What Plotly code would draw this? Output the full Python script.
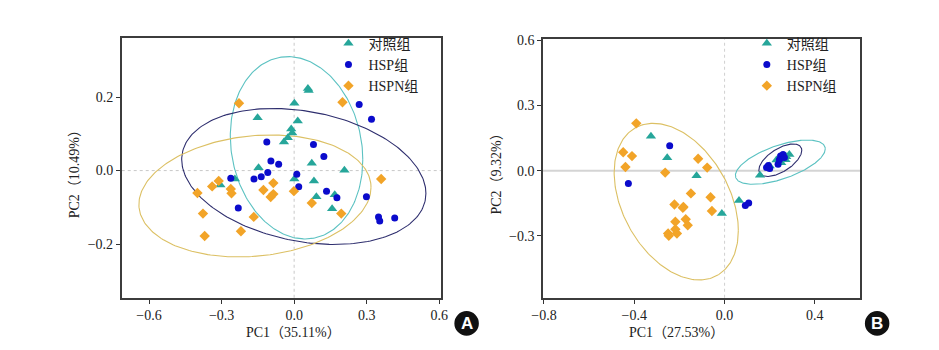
import numpy as np
import plotly.graph_objects as go

W, H = 939, 350
groups = ["对照组", "HSP组", "HSPN组"]

# ---------------- Panel A data ----------------
a_ctrl_x = [-0.151, -0.042, 0.057, 0.060, 0.001, 0.015, -0.012, -0.008, -0.026, -0.147,
            -0.245, -0.305, 0.073, 0.208, 0.001, 0.082, 0.092, 0.168, 0.157]
a_ctrl_y = [0.144, 0.078, 0.223, 0.218, 0.183, 0.135, 0.113, 0.102, 0.089, 0.008,
            -0.023, -0.039, 0.020, 0.001, -0.023, -0.028, -0.071, -0.066, -0.104]
a_hsp_x = [-0.113, 0.269, 0.320, 0.080, 0.123, -0.096, -0.064, -0.109, -0.136, -0.166,
           -0.262, -0.231, 0.011, 0.019, 0.134, 0.177, 0.299, 0.349, 0.354, 0.416]
a_hsp_y = [0.078, 0.180, 0.140, 0.071, 0.038, 0.026, 0.017, -0.005, -0.017, -0.023,
           -0.021, -0.102, -0.010, -0.044, -0.056, -0.074, -0.071, -0.126, -0.137, -0.129]
a_hspn_x = [-0.228, 0.200, -0.312, -0.339, -0.262, -0.259, -0.400, -0.086, -0.127, -0.086,
            -0.097, -0.377, -0.167, -0.220, -0.370, -0.001, 0.360, 0.073, 0.195]
a_hspn_y = [0.183, 0.186, -0.028, -0.043, -0.050, -0.062, -0.061, -0.034, -0.053, -0.064,
            -0.072, -0.117, -0.126, -0.165, -0.178, -0.056, -0.023, -0.088, -0.117]

# ellipse parameters (centre, x half-extent, y half-extent, tilt cosine)
a_ell_cx = [0.010, 0.040, -0.162]
a_ell_cy = [0.062, -0.016, -0.069]
a_ell_rx = [0.274, 0.505, 0.480]
a_ell_ry = [0.248, 0.185, 0.166]
a_ell_c = [-0.13, -0.25, 0.14]

# ---------------- Panel B data ----------------
b_ctrl_x = [-0.326, -0.254, -0.124, 0.064, -0.012, 0.157, 0.200, 0.230, 0.251, 0.273, 0.287, 0.270]
b_ctrl_y = [0.158, 0.059, -0.024, -0.138, -0.198, -0.021, 0.021, 0.049, 0.036, 0.064, 0.074, 0.050]
b_hsp_x = [-0.243, -0.426, 0.092, 0.107, 0.186, 0.194, 0.200, 0.237, 0.248, 0.259, 0.243, 0.265]
b_hsp_y = [0.115, -0.059, -0.161, -0.149, 0.014, 0.024, 0.010, 0.029, 0.067, 0.074, 0.050, 0.060]
b_hspn_x = [-0.391, -0.449, -0.410, -0.439, -0.263, -0.222, -0.185, -0.218, -0.218, -0.250,
            -0.211, -0.247, -0.117, -0.077, -0.149, -0.062, -0.182, -0.056, -0.172, -0.163]
b_hspn_y = [0.218, 0.085, 0.067, 0.017, -0.009, -0.156, -0.171, -0.236, -0.270, -0.290,
            -0.290, -0.300, 0.055, 0.014, -0.105, -0.123, -0.168, -0.186, -0.224, -0.252]

b_ell_cx = [0.247, 0.247, -0.214]
b_ell_cy = [0.039, 0.048, -0.143]
b_ell_rx = [0.199, 0.095, 0.275]
b_ell_ry = [0.102, 0.075, 0.361]
b_ell_c = [0.60, 0.60, -0.37]

a_xticks = [-0.6, -0.3, 0.0, 0.3, 0.6]
a_yticks = [-0.2, 0.0, 0.2]
b_xticks = [-0.8, -0.4, 0.0, 0.4]
b_yticks = [-0.3, 0.0, 0.3, 0.6]

# ---------------- styles ----------------
pt_colors = ["#26a69a", "#0b0bcc", "#f2a428"]
ell_colors = ["#5cc2c2", "#2e2e6e", "#dcc064"]
symbols = ["triangle-up", "circle", "diamond"]
sizes = [9, 7, 8]
SERIF = "Liberation Serif, Times New Roman, Noto Sans CJK SC, serif"

fig = go.Figure()


def ellipse(cx, cy, rx, ry, c):
    t = np.linspace(0, 2 * np.pi, 241)
    phi = np.arccos(c)
    return cx + rx * np.cos(t), cy + ry * np.cos(t + phi)


def add_panel(xa, ya, legend, pts, ell):
    for i in range(3):
        ex, ey = ellipse(ell[0][i], ell[1][i], ell[2][i], ell[3][i], ell[4][i])
        fig.add_trace(go.Scatter(x=ex, y=ey, mode="lines", xaxis=xa, yaxis=ya,
                                 line=dict(color=ell_colors[i], width=1.1),
                                 showlegend=False, hoverinfo="skip"))
    for i in range(3):
        fig.add_trace(go.Scatter(x=pts[i][0], y=pts[i][1], mode="markers", name=groups[i],
                                 xaxis=xa, yaxis=ya, legend=legend,
                                 marker=dict(symbol=symbols[i], size=sizes[i], color=pt_colors[i],
                                             line=dict(width=0))))


add_panel("x", "y", "legend",
          [(a_ctrl_x, a_ctrl_y), (a_hsp_x, a_hsp_y), (a_hspn_x, a_hspn_y)],
          (a_ell_cx, a_ell_cy, a_ell_rx, a_ell_ry, a_ell_c))
add_panel("x2", "y2", "legend2",
          [(b_ctrl_x, b_ctrl_y), (b_hsp_x, b_hsp_y), (b_hspn_x, b_hspn_y)],
          (b_ell_cx, b_ell_cy, b_ell_rx, b_ell_ry, b_ell_c))


def px_x(p):
    return p / W


def px_y(p):
    return 1 - p / H


axis_common = dict(showgrid=False, zeroline=False, showline=True, mirror=True,
                   linecolor="#3c3c3c", linewidth=1.6, ticks="outside", ticklen=4,
                   tickcolor="#333", tickwidth=1.2,
                   tickfont=dict(family=SERIF, size=14, color="#222"))

leg_common = dict(xanchor="left", yanchor="top", bgcolor="rgba(0,0,0,0)",
                  font=dict(family=SERIF, size=14, color="#222"),
                  tracegroupgap=0, itemsizing="trace")

fig.update_layout(
    width=W, height=H, margin=dict(l=0, r=0, t=0, b=0),
    paper_bgcolor="white", plot_bgcolor="white",
    xaxis=dict(domain=[px_x(112), px_x(438)], range=[-0.713, 0.608], anchor="y",
               tickvals=a_xticks, tickformat=".1f", **axis_common),
    yaxis=dict(domain=[px_y(297), px_y(33)], range=[-0.346, 0.362], anchor="x",
               tickvals=a_yticks, tickformat=".1f", **axis_common),
    xaxis2=dict(domain=[px_x(542), px_x(866)], range=[-0.804, 0.602], anchor="y2",
                tickvals=b_xticks, tickformat=".1f", **axis_common),
    yaxis2=dict(domain=[px_y(297), px_y(34)], range=[-0.586, 0.609], anchor="x2",
                tickvals=b_yticks, tickformat=".1f", **axis_common),
    legend=dict(x=px_x(323), y=px_y(23), **leg_common),
    legend2=dict(x=px_x(750), y=px_y(23), **leg_common),
    showlegend=True,
)

# zero reference lines
shapes = [
    dict(type="line", xref="x", yref="y domain", x0=0, x1=0, y0=0, y1=1,
         line=dict(color="#c8c8c8", width=1, dash="dot"), layer="below"),
    dict(type="line", xref="x domain", yref="y", x0=0, x1=1, y0=0, y1=0,
         line=dict(color="#c8c8c8", width=1, dash="dot"), layer="below"),
    dict(type="line", xref="x2", yref="y2 domain", x0=0, x1=0, y0=0, y1=1,
         line=dict(color="#d0d0d0", width=1, dash="dot"), layer="below"),
    dict(type="line", xref="x2 domain", yref="y2", x0=0, x1=1, y0=0, y1=0,
         line=dict(color="#d4d4d4", width=2), layer="below"),
]
# panel badges
for cxp in (464, 883):
    shapes.append(dict(type="circle", xref="paper", yref="paper",
                       x0=px_x(cxp - 12.5), x1=px_x(cxp + 12.5),
                       y0=px_y(323 + 12.5), y1=px_y(323 - 12.5),
                       fillcolor="#111", line=dict(color="#111", width=0)))
fig.update_layout(shapes=shapes)

annos = [
    dict(text="PC1（35.11%）", x=px_x(287), y=px_y(332)),
    dict(text="PC1（27.53%）", x=px_x(678), y=px_y(332)),
    dict(text="PC2（10.49%）", x=px_x(64), y=px_y(168), textangle=-90),
    dict(text="PC2（9.32%）", x=px_x(495), y=px_y(168), textangle=-90),
]
for a in annos:
    fig.add_annotation(xref="paper", yref="paper", showarrow=False,
                       xanchor="center", yanchor="middle",
                       font=dict(family=SERIF, size=14, color="#222"), **a)
for lbl, cxp in (("A", 464), ("B", 883)):
    fig.add_annotation(text="<b>%s</b>" % lbl, xref="paper", yref="paper",
                       x=px_x(cxp), y=px_y(323), showarrow=False,
                       xanchor="center", yanchor="middle",
                       font=dict(family="Liberation Sans, Arial, sans-serif", size=17, color="white"))

fig.write_html("out.html")
